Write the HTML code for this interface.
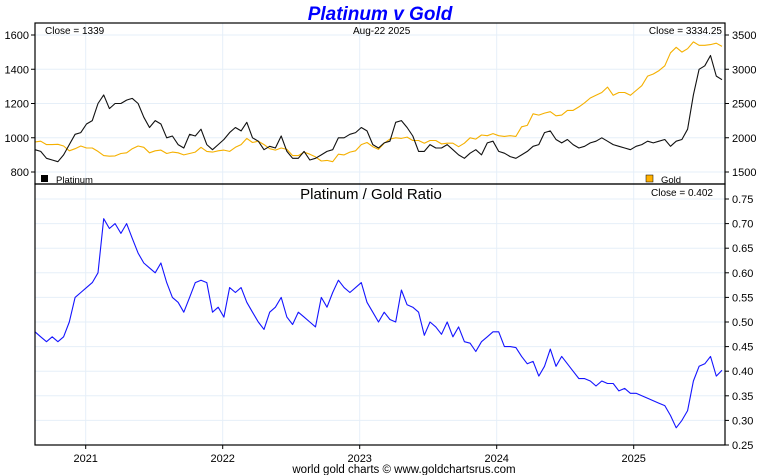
<!DOCTYPE html>
<html><head><meta charset="utf-8"><style>
html,body{margin:0;padding:0;background:#fff;}
svg{display:block;font-family:"Liberation Sans",Arial,sans-serif;}
</style></head><body>
<svg id="chart" width="760" height="475" viewBox="0 0 760 475" xml:space="preserve">
<text x="380" y="20" text-anchor="middle" font-size="19" font-weight="bold" font-style="italic" fill="#0000ff">Platinum v Gold</text>
<g id="grid"></g>
<g id="series"></g>
<g id="axes"></g>
<text x="45" y="34" font-size="10">Close = 1339</text>
<text x="353" y="34" font-size="10">Aug-22  2025</text>
<text x="722" y="34" font-size="10" text-anchor="end">Close = 3334.25</text>
<rect x="41" y="175" width="7" height="7" fill="#000"/>
<text x="56" y="183" font-size="9.5">Platinum</text>
<rect x="646" y="175" width="7" height="7" fill="#ffb000" stroke="#000" stroke-width="0.5"/>
<text x="661" y="183" font-size="9.5">Gold</text>
<text x="371" y="199" font-size="15" text-anchor="middle">Platinum  /  Gold Ratio</text>
<text x="713" y="196" font-size="10" text-anchor="end">Close = 0.402</text>
<text x="404" y="473" font-size="11.5" text-anchor="middle">world gold charts © www.goldchartsrus.com</text>
</svg>
<script>
const years = ["2021","2022","2023","2024","2025"];
const platTicks = [800,1000,1200,1400,1600];
const goldTicks = [1500,2000,2500,3000,3500];
const ratioTicks = [0.25,0.30,0.35,0.40,0.45,0.50,0.55,0.60,0.65,0.70,0.75];
const gold = [1940,1950,1900,1900,1905,1880,1810,1840,1880,
1850,1850,1800,1740,1730,1735,1770,1780,1840,1880,1860,1780,1810,1820,1770,1790,1780,1750,1770,1790,1860,1800,1790,1810,
1820,1800,1860,1900,1990,1930,1950,1900,1840,1820,1850,1830,1740,1740,1790,1760,1720,1660,1670,1650,1760,1750,1790,1810,
1900,1930,1870,1830,1920,1980,2000,1990,2010,1960,1960,1920,1960,1960,1910,1920,1920,1870,1920,2000,1980,2040,2030,2060,
2030,2020,2030,2020,2160,2180,2350,2330,2360,2380,2320,2330,2400,2400,2450,2510,2580,2620,2660,2740,2620,2660,2660,2620,
2690,2760,2900,2930,2980,3050,3240,3320,3250,3300,3400,3350,3350,3360,3380,3334];
const platinum = [930,920,880,870,860,900,960,1020,1030,
1080,1100,1200,1250,1170,1200,1200,1220,1230,1200,1120,1060,1100,1080,1000,1010,960,940,1020,1010,1050,960,930,960,
990,1030,1060,1040,1090,1000,980,930,950,940,1010,920,880,880,920,870,880,900,920,930,1000,1000,1020,1030,
1060,1040,960,940,970,980,1090,1100,1060,1010,920,920,960,940,940,960,930,900,880,910,930,900,970,980,
920,910,890,880,900,920,950,960,1030,1040,990,970,990,960,940,950,970,980,1000,980,960,950,940,930,
950,960,980,970,980,990,950,980,990,1050,1250,1400,1420,1480,1360,1339];
const ratio = [0.48,0.47,0.46,0.47,0.46,0.47,
0.50,0.55,0.56,0.57,0.58,0.60,
0.71,0.69,0.70,0.68,0.70,0.67,
0.64,0.62,0.61,0.60,0.62,0.58,
0.55,0.54,0.52,0.55,0.58,0.585,
0.58,0.52,0.53,0.51,0.57,0.56,
0.57,0.54,0.52,0.50,0.485,0.52,
0.53,0.55,0.51,0.495,0.52,0.51,
0.50,0.49,0.55,0.53,0.56,0.585,
0.57,0.56,0.57,0.58,0.54,0.52,
0.50,0.52,0.505,0.50,0.565,0.535,
0.53,0.52,0.473,0.50,0.49,0.475,
0.50,0.47,0.49,0.46,0.457,0.44,
0.46,0.47,0.48,0.48,0.45,0.45,
0.448,0.43,0.415,0.42,0.39,0.41,
0.445,0.41,0.43,0.415,0.40,0.385,
0.385,0.38,0.37,0.38,0.375,0.375,
0.36,0.365,0.355,0.355,0.35,0.345,
0.34,0.335,0.33,0.31,0.285,0.30,
0.32,0.38,0.41,0.415,0.43,0.39,
0.402];

const NS="http://www.w3.org/2000/svg";
const L=35,R=725,T1=23,B1=184,B2=445;
const xIdx=i=>L+i*(687/120);
const xYear=k=>85.7+k*137;
const yPlat=v=>35+(1600-v)/200*34.25;
const yGold=v=>35+(3500-v)/500*34.25;
const yRatio=v=>199+(0.75-v)/0.05*24.6;
function mk(tag,attrs,parent){const e=document.createElementNS(NS,tag);for(const k in attrs)e.setAttribute(k,attrs[k]);parent.appendChild(e);return e;}
const grid=document.getElementById('grid'),series=document.getElementById('series'),axes=document.getElementById('axes');
const gc="#e6eff8";
platTicks.forEach(v=>{const l=mk('line',{x1:L,x2:R,y1:yPlat(v),y2:yPlat(v),stroke:gc},grid);

});
ratioTicks.forEach(v=>{const l=mk('line',{x1:L,x2:R,y1:yRatio(v),y2:yRatio(v),stroke:gc},grid);

});
years.forEach((y,k)=>{const l=mk('line',{x1:xYear(k),x2:xYear(k),y1:T1,y2:B2,stroke:gc},grid);

});
function line(arr,fy,color,name){const d=arr.map((v,i)=>(i?'L':'M')+xIdx(i).toFixed(1)+','+fy(v).toFixed(1)).join('');
const p=mk('path',{d:d,fill:'none',stroke:color,'stroke-width':1.1,'stroke-linejoin':'round'},series);

}
line(gold,yGold,'#f5b000','gold-line');
line(platinum,yPlat,'#111','platinum-line');
line(ratio,yRatio,'#1414ff','ratio-line');
const f1=mk('rect',{x:L,y:T1,width:R-L,height:B1-T1,fill:'none',stroke:'#000','stroke-width':1.2},axes);


const f2=mk('rect',{x:L,y:B1,width:R-L,height:B2-B1,fill:'none',stroke:'#000','stroke-width':1.2},axes);


platTicks.forEach(v=>{mk('line',{x1:L-4,x2:L,y1:yPlat(v),y2:yPlat(v),stroke:'#000'},axes);
const t=mk('text',{x:L-6,y:yPlat(v)+4,'font-size':11,'text-anchor':'end'},axes);t.textContent=v;

});
goldTicks.forEach(v=>{mk('line',{x1:R,x2:R+4,y1:yGold(v),y2:yGold(v),stroke:'#000'},axes);
const t=mk('text',{x:R+7,y:yGold(v)+4,'font-size':11},axes);t.textContent=v;

});
ratioTicks.forEach(v=>{mk('line',{x1:R,x2:R+4,y1:yRatio(v),y2:yRatio(v),stroke:'#000'},axes);
const t=mk('text',{x:R+7,y:yRatio(v)+4,'font-size':11},axes);t.textContent=v.toFixed(2);

});
years.forEach((y,k)=>{mk('line',{x1:xYear(k),x2:xYear(k),y1:B2,y2:B2+4,stroke:'#000'},axes);
const t=mk('text',{x:xYear(k),y:462,'font-size':11,'text-anchor':'middle'},axes);t.textContent=y;

});
</script>
</body></html>
